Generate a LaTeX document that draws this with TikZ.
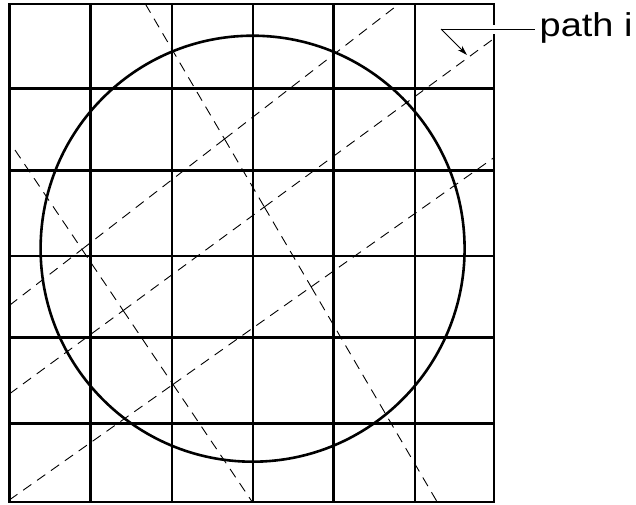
\documentclass[tikz,border=0pt]{standalone}
\usepackage{fontspec}
\setmainfont{Liberation Sans}
\usetikzlibrary{arrows.meta,calc}
\begin{document}
\begin{tikzpicture}[x=1pt,y=-1pt,
  gridline/.style={line width=2.6pt},
  rimline/.style={line width=2.6pt},
  ray/.style={line width=0.9pt, dash pattern=on 10pt off 7pt},
  leader/.style={line width=1pt},
  lbl/.style={inner sep=0pt, font=\fontsize{33}{40}\selectfont}]
\useasboundingbox (0,0) rectangle (636,504);
\fill[white] (0,0) rectangle (636,504);
% ray end points
\coordinate (a1) at (145.4,4);   \coordinate (a2) at (437.2,502);
\coordinate (b1) at (15,150);    \coordinate (b2) at (252.3,502);
\coordinate (r1s) at (9.3,305.5); \coordinate (r1e) at (398.9,4);
\coordinate (r2s) at (9.3,394);   \coordinate (r2e) at (494,38.5);
\coordinate (r3s) at (9.3,500);   \coordinate (r3e) at (494,157.6);
% intersections
\coordinate (ia1) at (intersection of a1--a2 and r1s--r1e);
\coordinate (ia2) at (intersection of a1--a2 and r2s--r2e);
\coordinate (ia3) at (intersection of a1--a2 and r3s--r3e);
\coordinate (ib1) at (intersection of b1--b2 and r1s--r1e);
\coordinate (ib2) at (intersection of b1--b2 and r2s--r2e);
\coordinate (ib3) at (intersection of b1--b2 and r3s--r3e);
\begin{scope}
  \clip (9.3,4) rectangle (494,502);
  \draw[ray] (a1) -- (ia1);  \draw[ray] (ia1) -- (ia2);
  \draw[ray] (ia2) -- (ia3); \draw[ray] (ia3) -- (a2);
  \draw[ray] (b1) -- (ib1);  \draw[ray] (ib1) -- (ib2);
  \draw[ray] (ib2) -- (ib3); \draw[ray] (ib3) -- (b2);
  \draw[ray] (r1s) -- (ib1); \draw[ray] (ib1) -- (ia1); \draw[ray] (ia1) -- (r1e);
  \draw[ray] (r2s) -- (ib2); \draw[ray] (ib2) -- (ia2); \draw[ray] (ia2) -- (r2e);
  \draw[ray] (r3s) -- (ib3); \draw[ray] (ib3) -- (ia3); \draw[ray] (ia3) -- (r3e);
\end{scope}
% grid
\foreach \x in {90.7,172,253,333.5,415} \draw[gridline] (\x,4) -- (\x,502);
\foreach \y in {88.7,170.7,256,337.7,423.3} \draw[gridline] (9.3,\y) -- (494,\y);
\draw[gridline] (9.3,4) rectangle (494,502);
% circle
\draw[rimline] (252.6,248.7) ellipse[x radius=212, y radius=213];
% label
\node[lbl, anchor=base west] (lab) at (539.5,36.5) {\scalebox{1.15}[1]{path i}};
\coordinate (lk) at (441,29);
\coordinate (tip) at (467,55);
\draw[white, line width=9pt] (489,29) -- (499,29);
\draw[leader, shorten >=4.5pt] (lk) -- (lk -| lab.west);
\draw[leader, -{Stealth[length=10pt,width=6pt]}] (lk) -- (tip);
\end{tikzpicture}
\end{document}
